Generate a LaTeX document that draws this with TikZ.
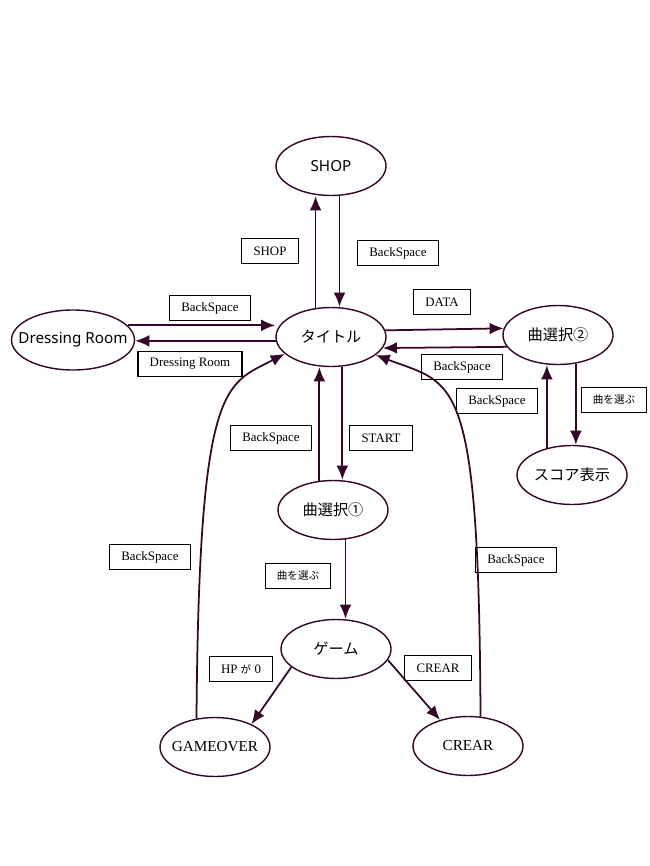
\documentclass[tikz,border=0pt]{standalone}
\usepackage{fontspec}
\setmainfont{Liberation Serif}
\setsansfont{Noto Sans}
\newfontfamily\jpfont{Noto Sans CJK JP}
\usetikzlibrary{shapes.geometric,arrows.meta}
\definecolor{edgepurple}{RGB}{52,6,40}
\newcommand{\stname}[1]{\makebox[0pt]{#1}}
\newcommand{\jpsmall}{\jpfont\fontsize{9}{11}\selectfont}

\begin{document}
\begin{tikzpicture}[x=0.03cm,y=-0.03cm,
  state/.style={ellipse,draw=edgepurple,line width=1.2pt,minimum width=3.3cm,
    minimum height=1.77cm,inner sep=0pt},
  jp/.style={font=\jpfont\fontsize{13}{15}\selectfont},
  en/.style={font=\sffamily\fontsize{13}{15}\selectfont},
  rm/.style={font=\fontsize{13}{15}\selectfont},
  lbl/.style={draw=black,line width=1pt,inner xsep=10pt,minimum height=0.75cm,
    font=\fontsize{11}{13}\selectfont},
  trans/.style={edgepurple,line width=1.5pt,-{Latex[length=12pt,width=10pt]}}]
  \useasboundingbox (0,0) rectangle (650,866);
  % --- states ---
  \node[state,en] (shop) at (331,166) {\stname{SHOP}};
  \node[state,jp] (title) at (331,337) {\stname{タイトル}};
  \node[state,en,minimum width=3.69cm,minimum height=1.8cm] (dress) at (73,340) {\stname{Dressing Room}};
  \node[state,jp] (sel2) at (558,335) {\stname{曲選択②}};
  \node[state,jp] (score) at (572,475) {\stname{スコア表示}};
  \node[state,jp] (sel1) at (333,510) {\stname{曲選択①}};
  \node[state,jp] (game) at (336,649) {\stname{ゲーム}};
  \node[state,rm] (gover) at (215,747) {\stname{GAMEOVER}};
  \node[state,rm] (crear) at (468,746) {\stname{CREAR}};
  % --- transition labels ---
  \foreach \nm/\lx/\ly/\txt in {lshop/270/251/SHOP, lbsshop/398/253/BackSpace,
      lbsdress/210/308/BackSpace, ldress/190/364/Dressing Room,
      ldata/442/302/DATA, lbssel2/462/367/BackSpace, lbsscore/497/401/BackSpace,
      lpick2/614/400/{\jpsmall 曲を選ぶ}, lbssel1/271/438/BackSpace,
      lstart/381/438/START, lbsover/150/557/BackSpace, lbscrear/516/560/BackSpace,
      lpick1/298/576/{\jpsmall 曲を選ぶ}, lhp/241/669/{HP {\jpsmall が} 0},
      lcrear/438/668/CREAR}{%
    \node[lbl] (\nm) at (\lx,\ly) {\txt};}
  % --- transitions ---
  \draw[trans] (title.118) -- (title.118 |- shop.south);
  \draw[trans] (shop.-74) -- (shop.-74 |- title.north);
  \draw[trans] (dress.15) -- (dress.15 -| title.west);
  \draw[trans] (title.184) -- (title.184 -| dress.east);
  \draw[trans] (title.7) -- (sel2.173);
  \draw[trans] (sel2.193) -- (title.-12);
  \draw[trans] (sel2.-58) -- (sel2.-58 |- score.north);
  \draw[trans] (score.133) -- (score.133 |- sel2.south);
  \draw[trans] (sel1.115) -- (sel1.115 |- title.south);
  \draw[trans] (title.-69) -- (title.-69 |- sel1.north);
  \draw[trans] (sel1.-67) -- (sel1.-67 |- game.north);
  \draw[trans] (game.202) -- (gover.32);
  \draw[trans] (game.-12) -- (crear.137);
  \draw[trans] (gover.123) .. controls (199,380) and (225,385) .. (title.200);
  \draw[trans] (crear.67) .. controls (479,370) and (455,385) .. (title.-22);
\end{tikzpicture}
\end{document}
